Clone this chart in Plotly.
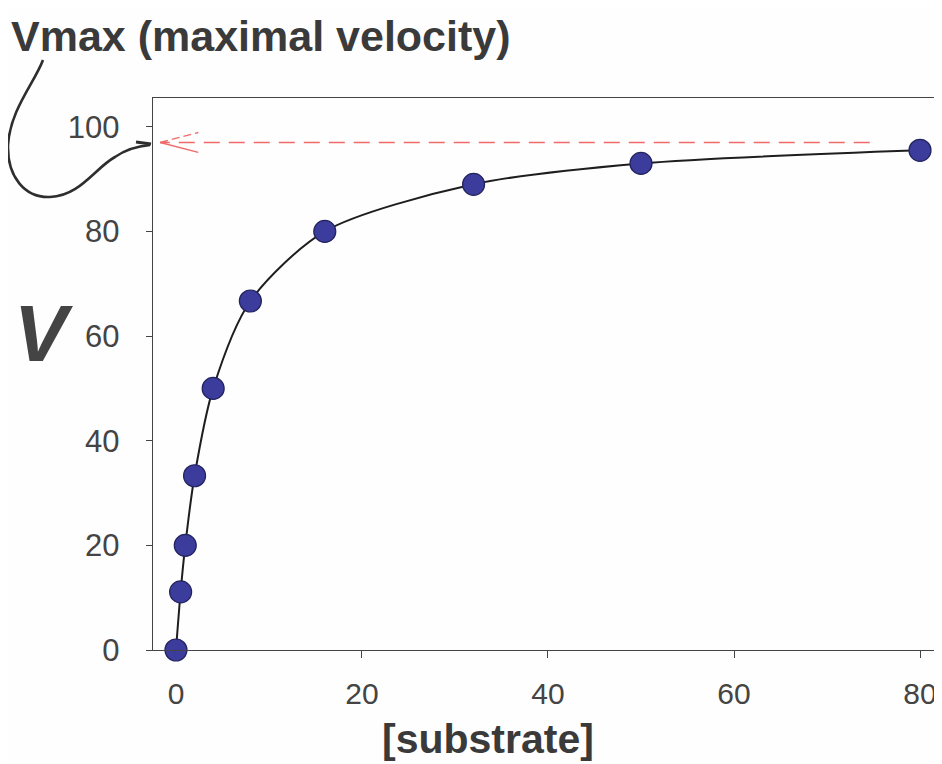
import plotly.graph_objects as go

# ---- data ----
substrate = [0, 0.5, 1, 2, 4, 8, 16, 32, 50, 80]
velocity = [0, 11.1, 20, 33.3, 50, 66.7, 80, 89, 93, 95.5]
vmax_level = 97
vmax_line_end = 74.6
x_ticks = [0, 20, 40, 60, 80]
y_ticks = [0, 20, 40, 60, 80, 100]

OFF = 8  # page body margin of the browser
W, H = 942 - OFF, 764 - OFF
L, R, T, B = 153 - OFF, 940 - OFF, 98 - OFF, 650 - OFF
PW, PH = R - L, B - T


def px(x, y):
    """reference-image pixel -> paper coordinates"""
    return (x - OFF - L) / PW, (B - (y - OFF)) / PH


def path_from(points):
    parts = []
    for cmd, pts in points:
        coords = " ".join("%.4f,%.4f" % px(a, b) for a, b in pts)
        parts.append(cmd + " " + coords)
    return " ".join(parts)


fig = go.Figure()
fig.add_trace(go.Scatter(
    x=substrate, y=velocity, mode="lines+markers",
    line=dict(color="#1e1e1e", width=2, shape="spline", smoothing=0.8),
    marker=dict(size=22, color="#3b3c9c", line=dict(color="#23245e", width=1.2)),
    cliponaxis=False, showlegend=False,
))

grey = "#3a3a3a"
red = "#f06a6a"
shapes = [
    dict(type="line", xref="x", yref="y", x0=vmax_line_end, x1=-1.7,
         y0=vmax_level, y1=vmax_level, line=dict(color=red, width=1.6, dash="16px,9px")),
    dict(type="line", xref="x", yref="y", x0=-1.7, y0=vmax_level, x1=2.4, y1=vmax_level + 1.9,
         line=dict(color=red, width=1.4, dash="8px,4px")),
    dict(type="line", xref="x", yref="y", x0=-1.7, y0=vmax_level, x1=2.4, y1=vmax_level - 1.9,
         line=dict(color=red, width=1.4)),
    dict(type="path", xref="paper", yref="paper",
         path=path_from([
             ("M", [(43, 60)]),
             ("C", [(35, 82), (10, 110), (8, 145)]),
             ("C", [(7, 177), (25, 198), (50, 197)]),
             ("C", [(80, 196), (95, 168), (115, 157)]),
             ("C", [(125, 150), (138, 146), (150, 145)]),
         ]),
         line=dict(color="#2e2e2e", width=2.6)),
    dict(type="path", xref="paper", yref="paper",
         path=path_from([("M", [(136, 142)]), ("L", [(151, 144), (141, 160)])]),
         line=dict(color="#2e2e2e", width=3.2)),
]

annotations = [
    dict(text="<b>Vmax (maximal velocity)</b>", xref="paper", yref="paper",
         x=px(9, 0)[0], y=px(0, 36)[1], xanchor="left", yanchor="middle",
         showarrow=False, font=dict(family="Liberation Sans, Arial", size=43, color=grey)),
    dict(text="<b><i>V</i></b>", xref="paper", yref="paper",
         x=px(43, 0)[0], y=px(0, 333)[1], xanchor="center", yanchor="middle",
         showarrow=False, font=dict(family="Liberation Sans, Arial", size=80, color="#444444")),
    dict(text="<b>[substrate]</b>", xref="paper", yref="paper",
         x=px(488, 0)[0], y=px(0, 739)[1], xanchor="center", yanchor="middle",
         showarrow=False, font=dict(family="Liberation Sans, Arial", size=41, color=grey)),
]

fig.update_layout(
    width=W, height=H,
    margin=dict(l=L, r=W - R, t=T, b=H - B, pad=0),
    paper_bgcolor="#fefefe", plot_bgcolor="#fefefe",
    shapes=shapes, annotations=annotations,
    xaxis=dict(range=[-2.47, 82.15], tickvals=x_ticks, ticks="outside", ticklen=7,
               tickcolor="#444", tickwidth=1.3, showgrid=False, zeroline=False,
               showline=True, linecolor="#444", linewidth=1.4, mirror=True,
               tickfont=dict(family="Liberation Sans, Arial", size=30, color="#444"),
               ticklabelstandoff=10),
    yaxis=dict(range=[0, 105.5], tickvals=y_ticks, ticks="outside", ticklen=6,
               tickcolor="#444", tickwidth=1.3, showgrid=False, zeroline=False,
               showline=True, linecolor="#444", linewidth=1.4, mirror=True,
               tickfont=dict(family="Liberation Sans, Arial", size=31, color="#444"),
               ticklabelstandoff=20),
)

fig.write_html("out.html")
